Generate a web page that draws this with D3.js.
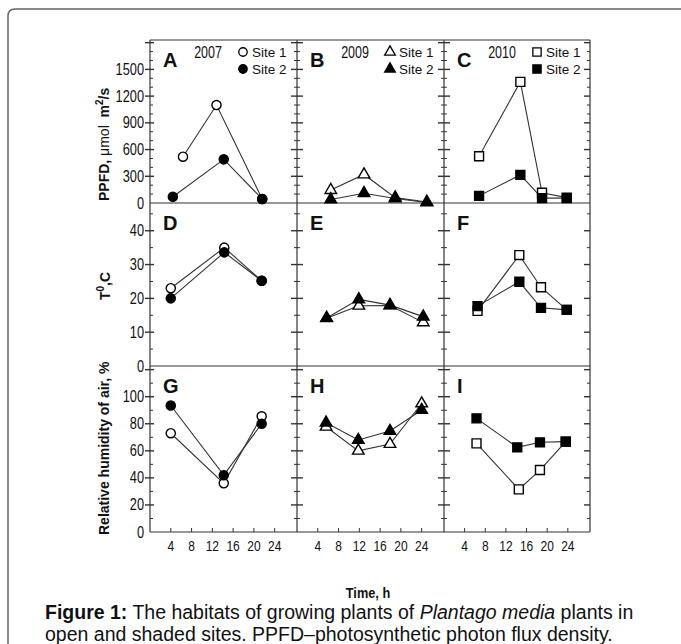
<!DOCTYPE html>
<html>
<head>
<meta charset="utf-8">
<script src="https://cdn.jsdelivr.net/npm/d3@7"></script>
<style>
  body { margin: 0; background: #fff; }
  text { font-family: "Liberation Sans", Arial, sans-serif; fill: #111; }
</style>
</head>
<body>
<svg id="fig" width="681" height="644"></svg>
<script>
// ---- data ----
const years = ["2007", "2009", "2010"];
const letters = ["A", "B", "C", "D", "E", "F", "G", "H", "I"];
const timeTicks = [4, 8, 12, 16, 20, 24];
const ppfdTicks = [0, 300, 600, 900, 1200, 1500];
const tempTicks = [0, 10, 20, 30, 40];
const humTicks = [0, 20, 40, 60, 80, 100];

// 2007 (circles)
const ppfdTime07s1 = [6.35, 12.8, 21.6];
const ppfd07s1 = [520, 1100, 45];
const ppfdTime07s2 = [4.4, 14.2, 21.6];
const ppfd07s2 = [70, 490, 45];
const tempTime07 = [4.0, 14.3, 21.5];
const temp07s1 = [23, 35, 25.2];
const temp07s2 = [20, 33.6, 25.2];
const humTime07 = [4.0, 14.2, 21.5];
const hum07s1 = [73, 36, 85.5];
const hum07s2 = [93.5, 42, 80];

// 2009 (triangles)
const ppfdTime09 = [6.5, 12.9, 18.9, 25.0];
const ppfd09s1 = [145, 320, 60, 12];
const ppfd09s2 = [40, 110, 50, 5];
const tempTime09 = [5.7, 11.9, 17.9, 24.3];
const temp09s1 = [14.1, 17.8, 17.9, 12.9];
const temp09s2 = [14.2, 19.7, 18.0, 14.6];
const humTime09 = [5.6, 11.8, 17.9, 24.0];
const hum09s1 = [77.8, 60, 65, 95];
const hum09s2 = [80.8, 68, 74.6, 90.2];

// 2010 (squares)
const ppfdTime10 = [6.8, 14.8, 19.0, 23.8];
const ppfd10s1 = [525, 1360, 115, 60];
const ppfd10s2 = [80, 315, 55, 55];
const tempTime10 = [6.5, 14.6, 18.8, 23.8];
const temp10s1 = [16.3, 32.8, 23.3, 16.6];
const temp10s2 = [17.7, 24.9, 17.2, 16.6];
const humTime10s1 = [6.3, 14.5, 18.6, 23.6];
const humTime10s2 = [6.3, 14.2, 18.6, 23.6];
const hum10s1 = [65.5, 31.5, 45.8, 66.8];
const hum10s2 = [84, 62.6, 66.3, 66.8];

// ---- layout ----
const svg = d3.select("#fig");
const colX = [150, 297, 444, 590];
const rowY = [40, 203, 366, 532];
const rowMax = [1830, 48.2, 122.7];
const rowMajor = [300, 10, 20];
const rowMinor = [100, 5, 10];
const rowTicks = [ppfdTicks, tempTicks, humTicks];
const symbols = [d3.symbolCircle, d3.symbolTriangle, d3.symbolSquare];
const symSize = [66, 58, 80];

const zip = (xs, ys) => xs.map((x, i) => [x, ys[i]]);

// panels: row by row, column by column
const panels = [
  [zip(ppfdTime07s1, ppfd07s1), zip(ppfdTime07s2, ppfd07s2)],
  [zip(ppfdTime09, ppfd09s1), zip(ppfdTime09, ppfd09s2)],
  [zip(ppfdTime10, ppfd10s1), zip(ppfdTime10, ppfd10s2)],
  [zip(tempTime07, temp07s1), zip(tempTime07, temp07s2)],
  [zip(tempTime09, temp09s1), zip(tempTime09, temp09s2)],
  [zip(tempTime10, temp10s1), zip(tempTime10, temp10s2)],
  [zip(humTime07, hum07s1), zip(humTime07, hum07s2)],
  [zip(humTime09, hum09s1), zip(humTime09, hum09s2)],
  [zip(humTime10s1, hum10s1), zip(humTime10s2, hum10s2)]
];

// outer frame (rounded top-left corner)
svg.append("path")
  .attr("d", "M8,644 L8,16 Q8,9 15,9 L681,9")
  .attr("fill", "none").attr("stroke", "#666").attr("stroke-width", 1.5);

// condensed text helper
function narrowText(g, x, y, str, size, anchor, sx) {
  return g.append("text")
    .attr("transform", `translate(${x},${y}) scale(${sx || 0.8},1)`)
    .attr("text-anchor", anchor)
    .style("font-size", size + "px")
    .text(str);
}

const frame = svg.append("g").attr("stroke", "#333").attr("stroke-width", 1.2);

// grid borders
rowY.forEach(y => frame.append("line").attr("x1", colX[0]).attr("x2", colX[3]).attr("y1", y).attr("y2", y));
colX.forEach(x => frame.append("line").attr("x1", x).attr("x2", x).attr("y1", rowY[0]).attr("y2", rowY[3]));

// y ticks on every vertical line
for (let r = 0; r < 3; r++) {
  const y = d3.scaleLinear().domain([0, rowMax[r]]).range([rowY[r + 1], rowY[r]]);
  const vals = d3.range(rowMinor[r], rowMax[r], rowMinor[r]);
  colX.forEach((x, i) => {
    vals.forEach(v => {
      const major = Math.abs(v / rowMajor[r] - Math.round(v / rowMajor[r])) < 1e-6;
      let a, b;
      if (i === 0) { a = major ? -5 : 0; b = major ? 4 : 3; }
      else if (i === 3) { a = major ? -6 : -3; b = 0; }
      else { a = major ? -6 : -3; b = major ? 6 : 3; }
      frame.append("line")
        .attr("x1", x + a).attr("x2", x + b)
        .attr("y1", y(v)).attr("y2", y(v))
        .attr("stroke-width", major ? 1.4 : 1);
    });
  });
  rowTicks[r].forEach(v => {
    narrowText(svg, 144, y(v) + 5.5, v, 16, "end");
  });
}

// x ticks and labels
for (let c = 0; c < 3; c++) {
  const x = d3.scaleLinear().domain([0, 28.3]).range([colX[c], colX[c + 1]]);
  timeTicks.forEach(t => {
    frame.append("line").attr("x1", x(t)).attr("x2", x(t))
      .attr("y1", rowY[3]).attr("y2", rowY[3] - 4).attr("stroke-width", 1);
    narrowText(svg, x(t), 551, t, 15, "middle");
  });
}

// data
panels.forEach((series, k) => {
  const r = Math.floor(k / 3), c = k % 3;
  const x = d3.scaleLinear().domain([0, 28.3]).range([colX[c], colX[c + 1]]);
  const y = d3.scaleLinear().domain([0, rowMax[r]]).range([rowY[r + 1], rowY[r]]);
  const line = d3.line().x(d => x(d[0])).y(d => y(d[1]));
  const g = svg.append("g");
  series.forEach(s => {
    g.append("path").attr("d", line(s))
      .attr("fill", "none").attr("stroke", "#333").attr("stroke-width", 1.1);
  });
  const sym = d3.symbol().type(symbols[c]).size(symSize[c]);
  series.forEach((s, si) => {
    g.selectAll(null).data(s).enter().append("path")
      .attr("d", sym)
      .attr("transform", d => `translate(${x(d[0])},${y(d[1])})`)
      .attr("fill", si === 0 ? "#fff" : "#000")
      .attr("stroke", "#000").attr("stroke-width", 1.4);
  });
  // panel letter
  svg.append("text")
    .attr("x", colX[c] + 13).attr("y", rowY[r] + 27)
    .style("font-size", "20px").style("font-weight", "bold")
    .text(letters[k]);
});

// year + legend in top row
years.forEach((yr, c) => {
  narrowText(svg, colX[c] + 58, 58, yr, 16, "middle", 0.78);
  ["Site 1", "Site 2"].forEach((lab, si) => {
    const ly = 52 + si * 17;
    svg.append("path")
      .attr("d", d3.symbol().type(symbols[c]).size(symSize[c] * 0.85))
      .attr("transform", `translate(${colX[c] + 93},${ly})`)
      .attr("fill", si === 0 ? "#fff" : "#000")
      .attr("stroke", "#000").attr("stroke-width", 1.3);
    svg.append("text")
      .attr("x", colX[c] + 102).attr("y", ly + 5)
      .style("font-size", "13.5px")
      .text(lab);
  });
});

// axis titles
const t1 = svg.append("text")
  .attr("transform", "translate(109,201) rotate(-90)")
  .style("font-size", "14px").style("font-weight", "bold");
t1.append("tspan").text("PPFD, ");
t1.append("tspan").style("font-weight", "normal").text("\u03bcmol");
t1.append("tspan").text("\u00a0 m");
t1.append("tspan").attr("dy", -6).style("font-size", "10px").text("2");
t1.append("tspan").attr("dy", 6).text("/s");

const t2 = svg.append("text")
  .attr("transform", "translate(110,300) rotate(-90)")
  .style("font-size", "14px").style("font-weight", "bold");
t2.append("tspan").text("T");
t2.append("tspan").attr("dy", -6).style("font-size", "10px").text("0");
t2.append("tspan").attr("dy", 6).text(",C");

svg.append("text")
  .attr("transform", "translate(109,535) rotate(-90)")
  .style("font-size", "14px").style("font-weight", "bold")
  .text("Relative humidity of air, %");

svg.append("text")
  .attr("transform", "translate(368,598) scale(0.85,1)")
  .attr("text-anchor", "middle")
  .style("font-size", "15px").style("font-weight", "bold")
  .text("Time, h");

// caption
const cap1 = svg.append("text").attr("x", 45).attr("y", 619).style("font-size", "19.5px");
cap1.append("tspan").style("font-weight", "bold").text("Figure 1:");
cap1.append("tspan").text(" The habitats of growing plants of ");
cap1.append("tspan").style("font-style", "italic").text("Plantago media");
cap1.append("tspan").text(" plants in");
svg.append("text").attr("x", 45).attr("y", 641).style("font-size", "19.5px")
  .text("open and shaded sites. PPFD\u2013photosynthetic photon flux density.");
</script>
</body>
</html>
